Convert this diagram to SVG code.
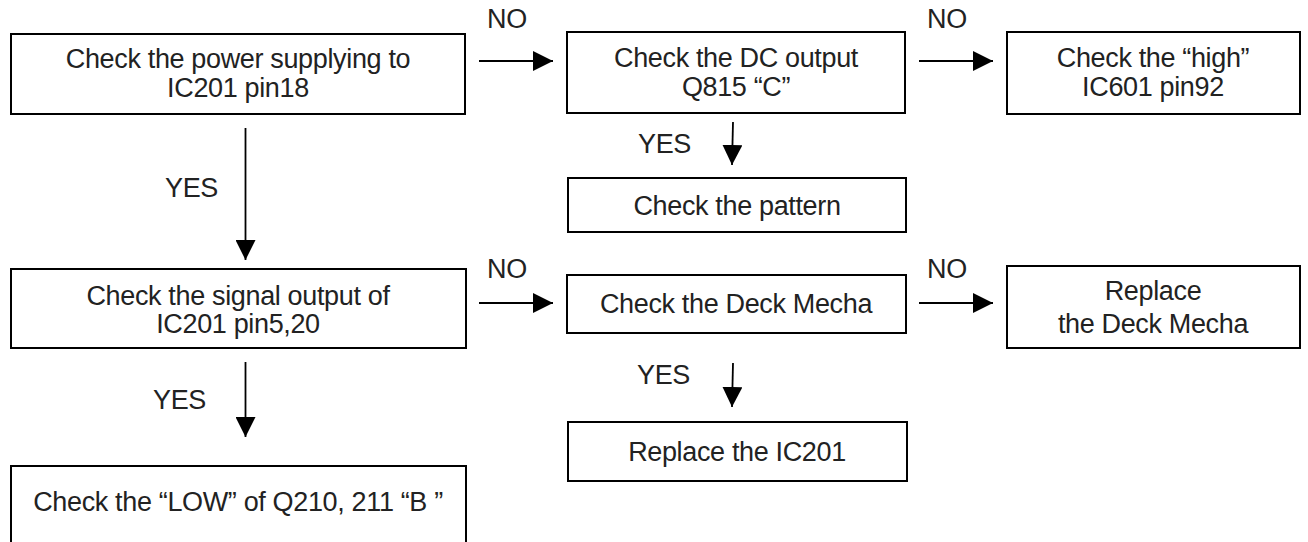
<svg xmlns="http://www.w3.org/2000/svg" width="1308" height="542" viewBox="0 0 1308 542">
<defs>
<marker id="ah" markerWidth="20" markerHeight="20" refX="20" refY="10" orient="auto" markerUnits="userSpaceOnUse">
<path d="M0,0 L20,10 L0,20 Z" fill="#000"/>
</marker>
<style>
.box{fill:#fff;stroke:#000;stroke-width:2}
.t{font-family:"Liberation Sans",Arial,sans-serif;font-size:27px;letter-spacing:-0.35px;fill:#222;text-anchor:middle}
.l{font-family:"Liberation Sans",Arial,sans-serif;font-size:27px;letter-spacing:-0.35px;fill:#222}
.c{stroke:#000;stroke-width:1.8;fill:none;marker-end:url(#ah)}
</style>
</defs>
<rect width="1308" height="542" fill="#fff"/>
<g id="n1"><rect class="box" x="11" y="34" width="454" height="80"/><text class="t" x="238" y="68">Check the power supplying to</text><text class="t" x="238" y="97">IC201 pin18</text></g>
<g id="n2"><rect class="box" x="567" y="32" width="338" height="81"/><text class="t" x="736" y="67">Check the DC output</text><text class="t" x="736" y="96">Q815 “C”</text></g>
<g id="n3"><rect class="box" x="1007" y="32" width="293" height="82"/><text class="t" x="1153" y="67">Check the “high”</text><text class="t" x="1153" y="96">IC601 pin92</text></g>
<g id="n4"><rect class="box" x="11" y="269" width="455" height="79"/><text class="t" x="238" y="305">Check the signal output of</text><text class="t" x="238" y="333">IC201 pin5,20</text></g>
<g id="n5"><rect class="box" x="11" y="466" width="455" height="90"/><text class="t" x="238" y="511">Check the “LOW” of Q210, 211 “B ”</text></g>
<g id="n6"><rect class="box" x="568" y="178" width="338" height="54"/><text class="t" x="737" y="215">Check the pattern</text></g>
<g id="n7"><rect class="box" x="567" y="275" width="339" height="58"/><text class="t" x="736" y="313">Check the Deck Mecha</text></g>
<g id="n8"><rect class="box" x="568" y="422" width="339" height="59"/><text class="t" x="737" y="461">Replace the IC201</text></g>
<g id="n9"><rect class="box" x="1007" y="266" width="293" height="82"/><text class="t" x="1153" y="300">Replace</text><text class="t" x="1153" y="333">the Deck Mecha</text></g>
<g id="connectors">
<line class="c" x1="479" y1="61" x2="553" y2="61"/>
<line class="c" x1="919" y1="61" x2="993" y2="61"/>
<line class="c" x1="245.5" y1="128" x2="245.5" y2="260"/>
<line class="c" x1="245.5" y1="362" x2="245.5" y2="437"/>
<line class="c" x1="733" y1="122" x2="732" y2="165"/>
<line class="c" x1="479" y1="303" x2="553" y2="303"/>
<line class="c" x1="919" y1="303" x2="993" y2="303"/>
<line class="c" x1="733" y1="363" x2="732" y2="407"/>
<text class="l" x="487" y="28">NO</text>
<text class="l" x="927" y="28">NO</text>
<text class="l" x="165" y="197">YES</text>
<text class="l" x="153" y="409">YES</text>
<text class="l" x="638" y="153">YES</text>
<text class="l" x="487" y="278">NO</text>
<text class="l" x="927" y="278">NO</text>
<text class="l" x="637" y="384">YES</text>
</g>
</svg>
